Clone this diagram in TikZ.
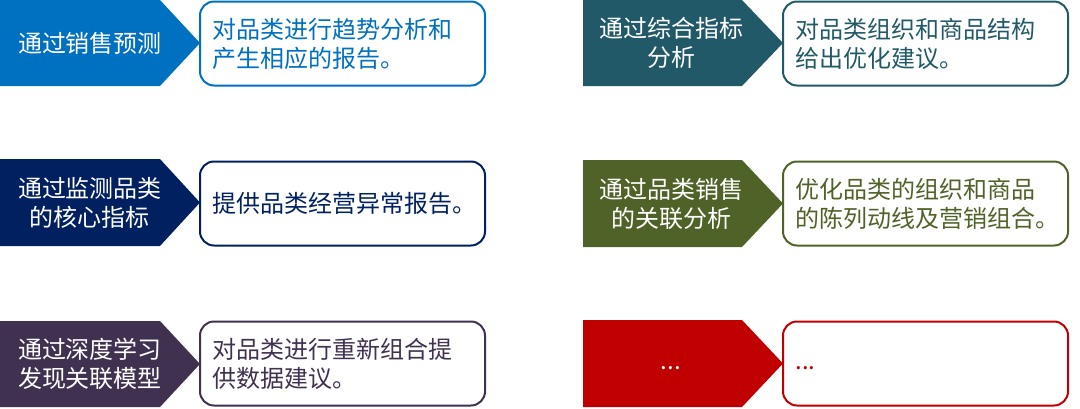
\documentclass[tikz,border=0pt]{standalone}
\usepackage{fontspec}
\setmainfont{Noto Sans CJK SC}
\definecolor{forecast}{HTML}{0070C0}
\definecolor{monitor}{HTML}{002060}
\definecolor{deeplearn}{HTML}{403151}
\definecolor{overall}{HTML}{215968}
\definecolor{assoc}{HTML}{4F6228}
\definecolor{more}{HTML}{C00000}
\tikzset{
  tag/.style={text=white, inner sep=0pt, align=center,
    font=\fontsize{24}{29}\selectfont},
  note/.style={draw=#1, text=#1, line width=2pt, rounded corners=14pt,
    minimum width=285pt, minimum height=84pt, text width=260pt, inner xsep=0pt,
    align=left, font=\fontsize{24}{29}\selectfont}
}
\begin{document}
\begin{tikzpicture}[x=1pt,y=-1pt]
\useasboundingbox (0,0) rectangle (1080,408);
% left column
\fill[forecast] (0,0) -- (160,0) -- (200,43) -- (160,86) -- (0,86) -- cycle;
\node[tag] (t1) at (90,43) {通过销售预测};
\node[note=forecast] (n1) at (342.5,43.5) {对品类进行趋势分析和\\产生相应的报告。};
\fill[monitor] (0,159) -- (160,159) -- (200,202.5) -- (160,246) -- (0,246) -- cycle;
\node[tag] (t2) at (90,202.5) {通过监测品类\\的核心指标};
\node[note=monitor] (n2) at (342.5,203.5) {提供品类经营异常报告。};
\fill[deeplearn] (0,321) -- (160,321) -- (200,364) -- (160,407) -- (0,407) -- cycle;
\node[tag] (t3) at (90,364) {通过深度学习\\发现关联模型};
\node[note=deeplearn] (n3) at (342.5,363.5) {对品类进行重新组合提\\供数据建议。};
% right column
\fill[overall] (583,0) -- (742,0) -- (783,43) -- (742,86) -- (583,86) -- cycle;
\node[tag] (t4) at (671,43) {通过综合指标\\分析};
\node[note=overall] (n4) at (925.5,43.5) {对品类组织和商品结构\\给出优化建议。};
\fill[assoc] (583,160) -- (742,160) -- (783,203.5) -- (742,247) -- (583,247) -- cycle;
\node[tag] (t5) at (671,203.5) {通过品类销售\\的关联分析};
\node[note=assoc] (n5) at (925.5,203.5) {优化品类的组织和商品\\的陈列动线及营销组合。};
\fill[more] (583,320) -- (742,320) -- (783,363.5) -- (742,407) -- (583,407) -- cycle;
\node[tag] (t6) at (671,363.5) {\strut...};
\node[note=more] (n6) at (925.5,363.5) {\strut...};
\end{tikzpicture}
\end{document}
